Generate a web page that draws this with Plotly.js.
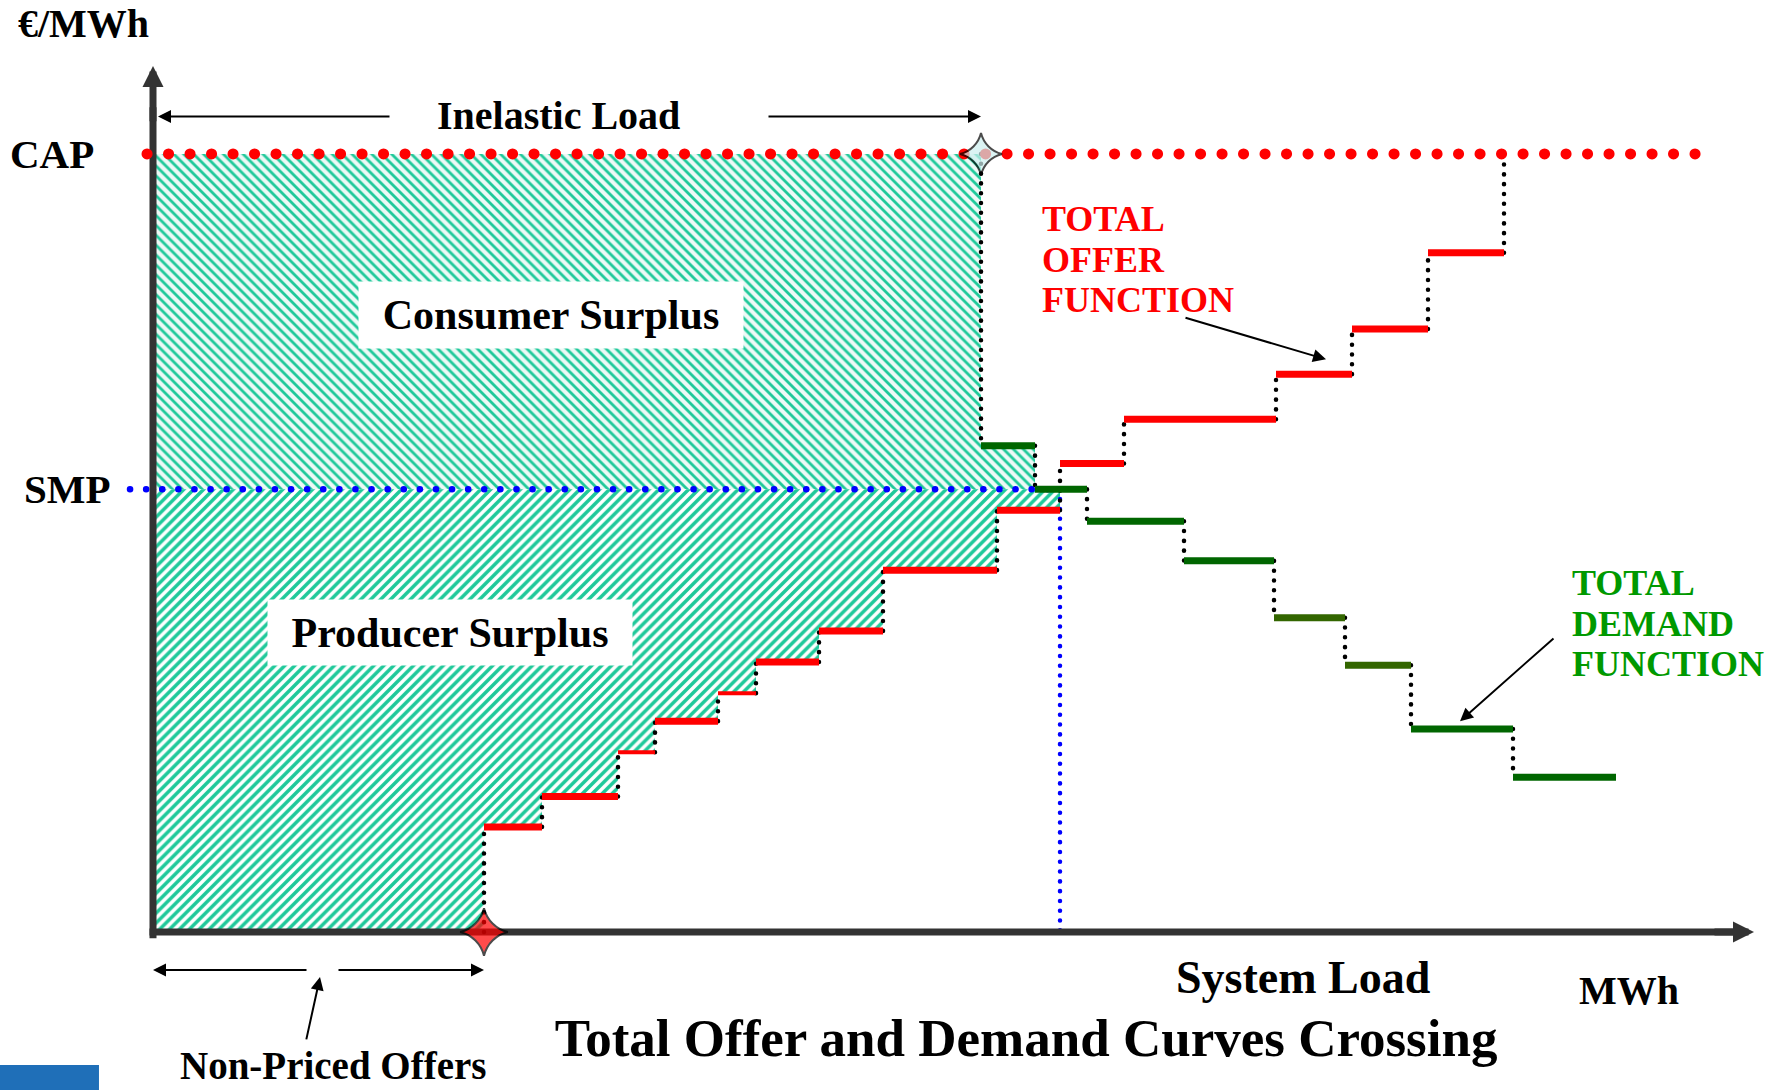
<!DOCTYPE html>
<html>
<head>
<meta charset="utf-8">
<script src="https://cdn.plot.ly/plotly-3.0.1.min.js"></script>
<style>
  body { margin: 0; background: #fff; }
  #chart { width: 1777px; height: 1090px; }
  /* round dots for the dotted guide lines */
  #chart path.js-line[style*="stroke-dasharray: 0.1px"] { stroke-linecap: round; }
</style>
</head>
<body>
<div id="chart"></div>
<script>
// Total offer / demand curves crossing (x: MWh, y: price with CAP = 100)

var capPrice = 100;
var smpPrice = 56.9;
var clearingQty = 907;
var nonPricedQty = 331;
var inelasticQty = 828;

// offer curve: block breakpoints (cumulative MWh) and block prices
var offerQty = [331, 389, 465, 502, 565, 603, 666, 730, 844, 907, 971, 1123, 1199, 1275, 1351];
var offerPrice = [13.5, 17.4, 23.1, 27.1, 30.7, 34.7, 38.7, 46.5, 54.2, 60.2, 65.9, 71.7, 77.5, 87.3];

// demand curve: block breakpoints and block prices
var demandQty = [828, 882, 934, 1031, 1121, 1192, 1258, 1360, 1463];
var demandPrice = [62.5, 56.9, 52.8, 47.7, 40.4, 34.3, 26.1, 19.9];

var thinOffer = [2, 4];
var oliveDemand = [4, 5];

var serif = 'Liberation Serif, Times New Roman, serif';

function stepXY(q, p, pick) {
    var x = [], y = [];
    p.forEach(function (price, i) {
        if (!pick(i)) return;
        x.push(q[i], q[i + 1], null);
        y.push(price, price, null);
    });
    return {x: x, y: y};
}

function riserXY(q, levels) {
    var x = [], y = [];
    for (var i = 0; i < levels.length - 1; i++) {
        x.push(q[i], q[i], null);
        y.push(levels[i], levels[i + 1], null);
    }
    return {x: x, y: y};
}

function surplusXY(q, p, start) {
    var x = [0, 0], y = [smpPrice, start], level = start;
    for (var i = 0; i < p.length && q[i] < clearingQty; i++) {
        x.push(q[i], q[i]);
        y.push(level, p[i]);
        level = p[i];
    }
    x.push(clearingQty, clearingQty);
    y.push(level, smpPrice);
    return {x: x, y: y};
}

function line(xy, color, width, dash) {
    return {
        x: xy.x, y: xy.y, type: 'scatter', mode: 'lines', hoverinfo: 'skip',
        line: {color: color, width: width, dash: dash || 'solid'}
    };
}

function hatch(xy, shape, bg, solidity) {
    return {
        x: xy.x, y: xy.y, type: 'scatter', mode: 'none', fill: 'toself',
        fillcolor: bg, hoverinfo: 'skip',
        fillpattern: {shape: shape, fgcolor: '#1fc99a', bgcolor: bg, size: 7, solidity: solidity}
    };
}

var consumerFill = hatch(surplusXY(demandQty, demandPrice, capPrice), '\\', '#eef9f6', 0.4);
var producerFill = hatch(surplusXY(offerQty, offerPrice, 0), '/', '#ffffff', 0.5);

var smpLine = line({x: [-23, clearingQty], y: [smpPrice, smpPrice]}, '#0000ff', 6.5, '0.1px,16px');
var smpDrop = line({x: [clearingQty, clearingQty], y: [smpPrice, 0]}, '#0000ff', 4.5, '0.1px,9.7px');

var xAxisLine = line({x: [-3.5, 1580], y: [0, 0]}, '#333333', 7);
var yAxisLine = line({x: [0, 0], y: [-0.8, 106]}, '#333333', 7);

var offerRisers = line(riserXY(offerQty, [0].concat(offerPrice, [capPrice])), '#000000', 4.5, '0.1px,9.7px');
var demandRisers = line(riserXY(demandQty, [capPrice].concat(demandPrice)), '#000000', 4.5, '0.1px,9.7px');

var offerThick = line(stepXY(offerQty, offerPrice, function (i) { return thinOffer.indexOf(i) < 0; }), '#ff0000', 7);
var offerThin = line(stepXY(offerQty, offerPrice, function (i) { return thinOffer.indexOf(i) >= 0; }), '#ff0000', 4);
var demandGreen = line(stepXY(demandQty, demandPrice, function (i) { return oliveDemand.indexOf(i) < 0; }), '#006600', 7);
var demandOlive = line(stepXY(demandQty, demandPrice, function (i) { return oliveDemand.indexOf(i) >= 0; }), '#336600', 7);

var capLine = line({x: [-6, 1562], y: [capPrice, capPrice]}, '#ff0000', 11, '0.1px,21.4px');

var stars = {
    x: [nonPricedQty, inelasticQty],
    y: [0, capPrice],
    type: 'scatter', mode: 'markers', hoverinfo: 'skip', cliponaxis: false,
    marker: {
        symbol: 'star-diamond', size: [34, 30],
        color: ['#ff0000', '#cdeeee'],
        line: {color: '#000000', width: 2}
    }
};

var data = [consumerFill, producerFill, smpLine, smpDrop, xAxisLine, yAxisLine,
    offerRisers, demandRisers, offerThick, offerThin, demandGreen, demandOlive, capLine, stars];

function label(text, x, y, size, color, extra) {
    var a = {
        x: x, y: y, xref: 'x', yref: 'y', text: text, showarrow: false,
        font: {family: serif, size: size, color: color || '#000000', weight: 700}
    };
    return Object.assign(a, extra || {});
}

function arrow(x, y, ax, ay, width, size, color) {
    return {
        x: x, y: y, ax: ax, ay: ay, xref: 'x', yref: 'y', axref: 'x', ayref: 'y',
        text: '', showarrow: true, arrowhead: 2, arrowwidth: width, arrowsize: size,
        arrowcolor: color || '#000000', font: {size: 1}
    };
}

var offerWords = ['TOTAL', 'OFFER', 'FUNCTION'];
var demandWords = ['TOTAL', 'DEMAND', 'FUNCTION'];

var annotations = [
    label('€/MWh', -137, 116.8, 40, null, {xanchor: 'left'}),
    label('CAP', -57, capPrice, 41, null, {xanchor: 'right'}),
    label('SMP', -40, smpPrice, 41, null, {xanchor: 'right'}),
    label('Inelastic Load', 405, 105, 40),
    label('Consumer Surplus', 398, 79.3, 42, null, {bgcolor: '#ffffff', width: 382, height: 64}),
    label('Producer Surplus', 297, 38.5, 42, null, {bgcolor: '#ffffff', width: 362, height: 63}),
    label('System Load', 1150, -5.8, 46),
    label('MWh', 1476, -7.5, 40),
    label('Non-Priced Offers', 180, -17.2, 39),

    arrow(1601, 0, 1560, 0, 7, 0.6, '#333333'),
    arrow(0, 111.3, 0, 104, 7, 0.6, '#333333'),
    arrow(5, 104.8, 238, 104.8, 2, 1.3),
    arrow(inelasticQty, 104.8, 614, 104.8, 2, 1.3),
    arrow(0, -4.9, 155, -4.9, 2, 1.3),
    arrow(nonPricedQty, -4.9, 184, -4.9, 2, 1.3),
    arrow(167, -5.8, 153, -14.0, 2, 1.3),
    arrow(1173, 73.6, 1031, 79.0, 2, 1.3),
    arrow(1307, 27.1, 1402, 37.9, 2, 1.3)
];

offerWords.forEach(function (w, i) {
    annotations.push(label(w, 887, 91.6 - 5.2 * i, 36, '#ff0000', {xanchor: 'left'}));
});
demandWords.forEach(function (w, i) {
    annotations.push(label(w, 1417, 44.9 - 5.25 * i, 36, '#009900', {xanchor: 'left'}));
});

var layout = {
    width: 1777, height: 1090,
    margin: {l: 0, r: 0, t: 0, b: 0},
    paper_bgcolor: '#ffffff', plot_bgcolor: '#ffffff',
    showlegend: false, hovermode: false,
    title: {
        text: 'Total Offer and Demand Curves Crossing',
        font: {family: serif, size: 53, color: '#000000', weight: 700},
        xref: 'container', yref: 'container',
        x: 0.5774, y: 0.0486, xanchor: 'center', yanchor: 'middle'
    },
    xaxis: {range: [-153, 1624], visible: false, fixedrange: true},
    yaxis: {range: [-20.31, 119.79], visible: false, fixedrange: true},
    annotations: annotations,
    shapes: [{
        type: 'rect', xref: 'paper', yref: 'paper',
        x0: 0, x1: 0.0557, y0: 0, y1: 0.023,
        fillcolor: '#1f6fb8', line: {width: 0}
    }]
};

Plotly.newPlot('chart', data, layout, {displayModeBar: false, staticPlot: true});
</script>
</body>
</html>
